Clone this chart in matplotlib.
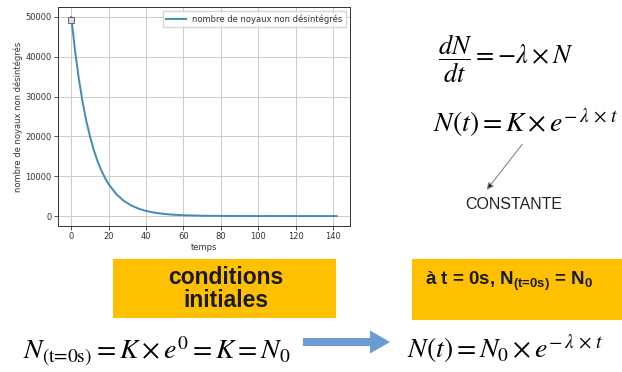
import matplotlib
matplotlib.use("Agg")
import matplotlib.pyplot as plt
from matplotlib.patches import Rectangle, FancyArrow, FancyArrowPatch
from matplotlib.transforms import IdentityTransform

# Decay of the number of undisintegrated nuclei over time
temps = [0, 2, 4, 6, 8, 10, 12, 14, 16, 18, 20, 24, 28, 32, 36, 40, 45, 50,
         55, 60, 70, 80, 90, 100, 110, 120, 130, 142]
noyaux = [50000, 41600, 34600, 28800, 24000, 20000, 16650, 13850, 11550, 9600,
          8000, 5550, 3850, 2670, 1850, 1280, 810, 510, 320, 205, 80, 33, 13,
          5, 2, 1, 0, 0]
x_ticks = [0, 20, 40, 60, 80, 100, 120, 140]
y_ticks = [0, 10000, 20000, 30000, 40000, 50000]

serie_label = "nombre de noyaux non désintégrés"
titre_boite1 = "conditions\ninitiales"
titre_boite2 = r"à t = 0s, N$_{\text{(t=0s)}}$ = N$_{\text{0}}$"

plt.rcParams["mathtext.fontset"] = "stix"
plt.rcParams["mathtext.rm"] = "Liberation Sans:bold"
plt.rcParams["mathtext.bf"] = "Liberation Sans:bold"
plt.rcParams["mathtext.it"] = "Liberation Sans:bold"
plt.rcParams["mathtext.sf"] = "Liberation Sans:bold"

W, H = 622, 372
fig = plt.figure(figsize=(W / 100, H / 100), dpi=100)
fig.patch.set_facecolor("white")


def fx(px):
    return px / W


def fy(py):
    return 1 - py / H


# --- chart ---
ax = fig.add_axes([fx(58), fy(226), fx(350) - fx(58), fy(7) - fy(226)])
ax.plot(temps, noyaux, color="#3f8db4", lw=1.4, label=serie_label)
ax.plot(temps[0], noyaux[0] - 800, marker="s", ms=4, mfc="#dddddd",
        mec="#555555", mew=0.6, ls="none")
ax.set_xticks(x_ticks)
ax.set_yticks(y_ticks)
ax.tick_params(labelsize=6, colors="#333333", length=3, width=0.6, pad=1.5)
ax.grid(True, color="#cccccc", lw=0.7)
ax.set_xlabel("temps", fontsize=6, color="#333333", labelpad=1.5)
ax.set_ylabel(serie_label, fontsize=6, color="#333333", labelpad=2)
for s in ax.spines.values():
    s.set_linewidth(0.7)
    s.set_color("#333333")
ax.legend(loc="upper right", fontsize=6, frameon=True, framealpha=0.8,
          edgecolor="#cccccc", fancybox=False, handlelength=2.3,
          borderpad=0.4, labelcolor="#333333")

# --- equations (serif math) ---
fig.text(fx(438), fy(59), r"$\dfrac{dN}{dt}=-\lambda\times N$",
         fontsize=19, va="center", ha="left", math_fontfamily="stix")
fig.text(fx(433), fy(132), r"$N\left(t\right)=K\times e^{-\,\lambda\,\times\,t}$",
         fontsize=20, va="baseline", ha="left", math_fontfamily="stix")
fig.text(fx(514), fy(205), "CONSTANTE", fontsize=11.5, ha="center", va="center",
         family="Liberation Sans", color="#222222")
fig.add_artist(FancyArrowPatch((524, H - 142), (485, H - 192),
                               arrowstyle="-|>", mutation_scale=10,
                               edgecolor="#888888", facecolor="#111111", lw=0.8,
                               transform=IdentityTransform()))

# --- yellow boxes ---
fig.add_artist(Rectangle((fx(113), fy(318)), fx(336) - fx(113), fy(259) - fy(318),
                         transform=fig.transFigure, color="#ffc000", lw=0))
fig.add_artist(Rectangle((fx(412), fy(320)), fx(640) - fx(412), fy(259) - fy(320),
                         transform=fig.transFigure, color="#ffc000", lw=0))
fig.text(fx(226), fy(289), titre_boite1, fontsize=16.5, fontweight="bold",
         family="Liberation Sans", ha="center", va="center",
         multialignment="center", color="#1a1a1a", linespacing=1.05)
fig.text(fx(425), fy(285), titre_boite2, fontsize=13.5, fontweight="bold",
         family="Liberation Sans", ha="left", va="baseline", color="#1a1a1a",
         math_fontfamily="custom")

# --- bottom equations ---
fig.text(fx(23), fy(359),
         r"$N_{\text{(t=0s)}}=K\times e^{0}=K=N_{0}$",
         fontsize=20, va="baseline", ha="left", math_fontfamily="stix")
fig.add_artist(FancyArrow(303, H - 342, 87, 0, width=8, head_width=23,
                          head_length=20, length_includes_head=True,
                          color="#6a9bd1", lw=0, transform=IdentityTransform()))
fig.text(fx(407), fy(358),
         r"$N\left(t\right)=N_{0}\times e^{-\,\lambda\,\times\,t}$",
         fontsize=20, va="baseline", ha="left", math_fontfamily="stix")

fig.savefig("out.png", dpi=100)
